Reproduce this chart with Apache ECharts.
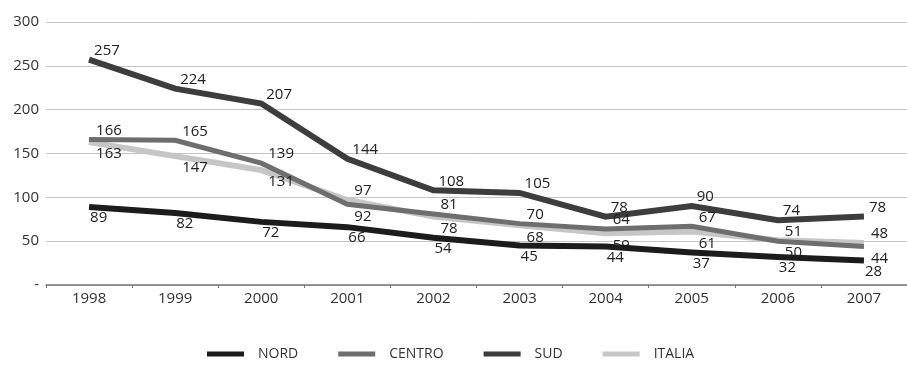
<!DOCTYPE html>
<html>
<head>
<meta charset="utf-8">
<style>
  html, body { margin: 0; padding: 0; background: #ffffff; }
  #chart { width: 907px; height: 370px; }
</style>
<script src="https://cdn.jsdelivr.net/npm/echarts@6/dist/echarts.min.js"></script>
</head>
<body>
<div id="chart"></div>
<script>
// Anni e valori per ripartizione
const anni = ['1998', '1999', '2000', '2001', '2002', '2003', '2004', '2005', '2006', '2007'];
const nord = [89, 82, 72, 66, 54, 45, 44, 37, 32, 28];
const centro = [166, 165, 139, 92, 81, 70, 64, 67, 50, 44];
const sud = [257, 224, 207, 144, 108, 105, 78, 90, 74, 78];
const italia = [163, 147, 131, 97, 78, 68, 59, 61, 51, 48];
const yTicks = [0, 50, 100, 150, 200, 250, 300];

const FONT = '"Open Sans", "DejaVu Sans", sans-serif';
const labelBase = { show: true, color: '#222', fontSize: 15, fontFamily: FONT };

// CENTRO e ITALIA: etichetta sopra la linea più alta, sotto quella più bassa
function pairData(values, other) {
  return values.map((v, i) => ({
    value: v,
    label: v >= other[i]
      ? { position: 'right', offset: [2, -9] }
      : { position: 'right', offset: [2, 12] }
  }));
}

function lineSeries(name, data, color, width, label) {
  return {
    name: name,
    type: 'line',
    data: data,
    symbol: 'circle',
    symbolSize: 0,
    showSymbol: true,
    lineStyle: { color: color, width: width, cap: 'butt', join: 'miter' },
    itemStyle: { color: color },
    label: Object.assign({}, labelBase, label),
    z: 2
  };
}

const chart = echarts.init(document.getElementById('chart'), null, { renderer: 'canvas' });
chart.setOption({
  animation: false,
  backgroundColor: '#ffffff',
  grid: { left: 46, width: 863, top: 22, bottom: 85, containLabel: false },
  xAxis: {
    type: 'category',
    data: anni,
    boundaryGap: true,
    axisLine: { show: true, lineStyle: { color: '#777', width: 1.5 } },
    axisTick: { show: true, lineStyle: { color: '#777' }, length: 3 },
    axisLabel: { color: '#333', fontSize: 15, fontFamily: FONT, margin: 6 },
    splitLine: { show: false }
  },
  yAxis: {
    type: 'value',
    min: yTicks[0],
    max: yTicks[yTicks.length - 1],
    interval: 50,
    axisLine: { show: false },
    axisTick: { show: false },
    axisLabel: {
      color: '#333', fontSize: 15, fontFamily: FONT, margin: 7,
      formatter: v => (v === 0 ? '-' : String(v))
    },
    splitLine: { lineStyle: { color: '#c4c4c4', width: 1 } }
  },
  legend: {
    bottom: 4,
    left: 202,
    icon: 'rect',
    itemWidth: 37,
    itemHeight: 5,
    itemGap: 40,
    textStyle: { color: '#333', fontSize: 14, fontFamily: FONT, padding: [0, 0, 0, 9] },
    data: ['NORD', 'CENTRO', 'SUD', 'ITALIA']
  },
  series: [
    lineSeries('ITALIA', pairData(italia, centro), '#c6c6c6', 6, {}),
    lineSeries('CENTRO', pairData(centro, italia), '#6e6e6e', 5, {}),
    lineSeries('NORD', nord, '#1c1c1c', 6, { position: 'right', offset: [-4, 11] }),
    lineSeries('SUD', sud, '#3d3d3d', 6, { position: 'right', offset: [0, -9] })
  ]
});
</script>
</body>
</html>
